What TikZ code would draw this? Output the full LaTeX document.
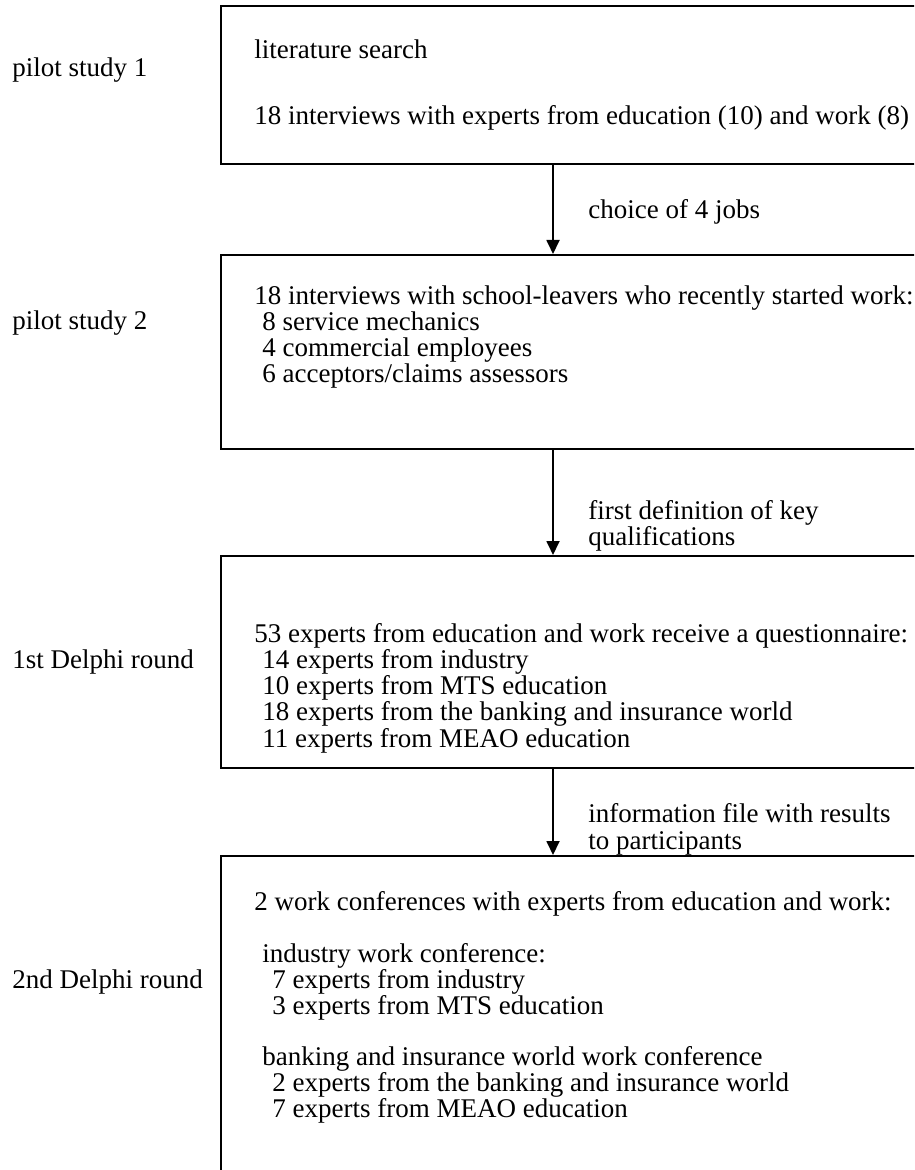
\documentclass[tikz,border=0pt]{standalone}
\usepackage{fontspec}
\setmainfont{Liberation Serif}
\usetikzlibrary{positioning, arrows.meta}

\tikzset{
    stage/.style={rectangle, draw=black, line width=0.9pt, anchor=north west, inner sep=0pt, minimum width=350pt},
    txt/.style={anchor=base west, inner sep=0pt, font=\fontsize{13.5}{15}\selectfont},
    flow/.style={draw=black, line width=0.9pt, -{Triangle[length=7pt, width=6.5pt]}}
}

\begin{document}
\begin{tikzpicture}[x=0.5pt, y=-0.5pt]
            \useasboundingbox (0, 0) rectangle (914, 1170);
            \clip (0, 0) rectangle (914, 1170);

            % stages
            \node[stage, minimum height=79pt] (s1) at (220, 5) {};
            \node[stage, minimum height=97pt] (s2) at (220, 254) {};
            \node[stage, minimum height=106pt] (s3) at (220, 555) {};
            \node[stage, minimum height=165pt] (s4) at (220, 855) {};

            % row labels
            \node[txt] (l1) at (12, 77) {pilot study 1};
            \node[txt] (l2) at (12, 330) {pilot study 2};
            \node[txt] (l3) at (12, 668) {1st Delphi round};
            \node[txt] (l4) at (12, 988) {2nd Delphi round};

            % stage 1
            \node[txt] (t11) at (254, 59) {literature search};
            \node[txt] (t12) at (254, 125) {18 interviews with experts from education (10) and work (8)};

            % stage 2
            \node[txt] (t21) at (254, 305) {18 interviews with school-leavers who recently started work:};
            \node[txt] (t22) at (262, 331) {8 service mechanics};
            \node[txt] (t23) at (262, 357) {4 commercial employees};
            \node[txt] (t24) at (262, 383) {6 acceptors/claims assessors};

            % stage 3
            \node[txt] (t31) at (254, 642) {53 experts from education and work receive a questionnaire:};
            \node[txt] (t32) at (262, 668) {14 experts from industry};
            \node[txt] (t33) at (262, 694) {10 experts from MTS education};
            \node[txt] (t34) at (262, 720) {18 experts from the banking and insurance world};
            \node[txt] (t35) at (262, 747) {11 experts from MEAO education};

            % stage 4
            \node[txt] (t41) at (254, 910) {2 work conferences with experts from education and work:};
            \node[txt] (t42) at (262, 962) {industry work conference:};
            \node[txt] (t43) at (272, 988) {7 experts from industry};
            \node[txt] (t44) at (272, 1014) {3 experts from MTS education};
            \node[txt] (t45) at (262, 1065) {banking and insurance world work conference};
            \node[txt] (t46) at (272, 1091) {2 experts from the banking and insurance world};
            \node[txt] (t47) at (272, 1117) {7 experts from MEAO education};

            % transitions
            \coordinate (ax) at (553, 0);
            \draw[flow] (s1.south -| ax) -- (s2.north -| ax);
            \draw[flow] (s2.south -| ax) -- (s3.north -| ax);
            \draw[flow] (s3.south -| ax) -- (s4.north -| ax);

            \node[txt] (a1) at (588, 219) {choice of 4 jobs};
            \node[txt] (a2) at (588, 519) {first definition of key};
            \node[txt] (a3) at (588, 545) {qualifications};
            \node[txt] (a4) at (588, 822) {information file with results};
            \node[txt] (a5) at (588, 849) {to participants};
        \end{tikzpicture}
\end{document}
